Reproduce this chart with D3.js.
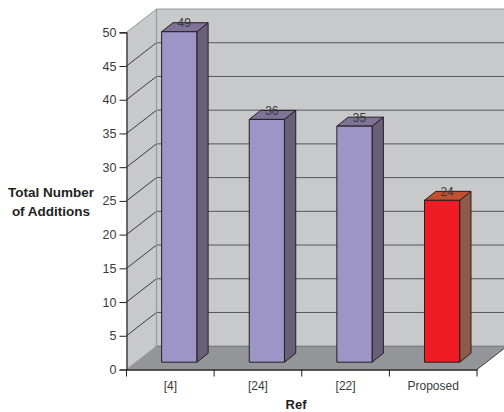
<!DOCTYPE html>
<html>
<head>
<meta charset="utf-8">
<script src="https://cdn.jsdelivr.net/npm/d3@7/dist/d3.min.js"></script>
<style>
html,body{margin:0;padding:0;background:#fff;}
svg{display:block;}
text{font-family:"Liberation Sans",Arial,sans-serif;}
</style>
</head>
<body>
<svg id="chart" width="504" height="412"></svg>
<script>
// Additions per reference, drawn as a 3-D column chart
const categories = ["[4]", "[24]", "[22]", "Proposed"];
const values = [49, 36, 35, 24];
const yTicks = [0, 5, 10, 15, 20, 25, 30, 35, 40, 45, 50];
const yTitleLines = ["Total Number", "of Additions"];
const xTitle = "Ref";

const svg = d3.select("#chart");
const left = 126.5, right = 477, y0 = 369.5, y50 = 32.3;
const x = d3.scaleBand().domain(categories).range([left, right]);
const y = d3.scaleLinear().domain([0, 50]).range([y0, y50]);

// Projection offsets: full chart depth, bar plane inset, bar depth
const depth = {dx: 30, dy: -23.3};
const inset = {dx: 8.9, dy: -7.3};
const barDepth = {dx: 11.3, dy: -9};
const barWidth = 35.2;

const poly = pts => pts.map(p => p.join(",")).join(" ");
const yTop = y(50), yBot = y(0);

// Walls and floor
svg.append("polygon").attr("fill", "#c8c9cb")
  .attr("points", poly([[left, yBot], [left, yTop], [left + depth.dx, yTop + depth.dy], [right + depth.dx, yTop + depth.dy], [right + depth.dx, yBot + depth.dy]]));
svg.append("polygon").attr("fill", "#939598")
  .attr("points", poly([[left, yBot], [left + depth.dx, yBot + depth.dy], [right + depth.dx, yBot + depth.dy], [right, yBot]]));

// Gridlines on the side wall and back wall
yTicks.forEach(t => {
  const edge = t === 50 ? "#97999b" : "#3c3c3e";
  const back = t === 0 ? "#6d6e70" : (t === 50 ? "#97999b" : "#56565a");
  if (t > 0) svg.append("line").attr("x1", left).attr("y1", y(t)).attr("x2", left + depth.dx).attr("y2", y(t) + depth.dy)
    .attr("stroke", edge).attr("stroke-width", 1);
  svg.append("line").attr("x1", left + depth.dx).attr("y1", y(t) + depth.dy).attr("x2", right + depth.dx).attr("y2", y(t) + depth.dy)
    .attr("stroke", back).attr("stroke-width", t === 50 ? 1.2 : 1);
});
svg.append("line").attr("x1", left + depth.dx).attr("y1", yTop + depth.dy).attr("x2", left + depth.dx).attr("y2", yBot + depth.dy)
  .attr("stroke", "#97999b").attr("stroke-width", 1.2);
svg.append("line").attr("x1", left).attr("y1", yBot).attr("x2", left + depth.dx).attr("y2", yBot + depth.dy)
  .attr("stroke", "#97999b").attr("stroke-width", 1);
svg.append("line").attr("x1", right).attr("y1", yBot).attr("x2", right + depth.dx).attr("y2", yBot + depth.dy)
  .attr("stroke", "#3c3c3e").attr("stroke-width", 1);

// Column colours: compared methods in violet, the proposed one in red
const palette = v => v === "Proposed"
  ? {front: "#ef1c25", side: "#8f5a48", cap: "#c2502f"}
  : {front: "#9e95c7", side: "#6a5f78", cap: "#7f7398"};

const bars = svg.append("g").selectAll("g").data(categories.map((c, i) => ({c, v: values[i]}))).join("g");
bars.each(function(d) {
  const g = d3.select(this), col = palette(d.c);
  const xa = x(d.c) + x.bandwidth() / 2 - barWidth / 2 + inset.dx;
  const xb = xa + barWidth;
  const yb = yBot + inset.dy;
  const yt = y(d.v) + inset.dy;
  const stroke = {stroke: "#231f20", "stroke-width": 1, "stroke-linejoin": "round"};
  const add = (pts, fill) => {
    const p = g.append("polygon").attr("points", poly(pts)).attr("fill", fill);
    Object.entries(stroke).forEach(([k, s]) => p.attr(k, s));
  };
  add([[xb, yt], [xb + barDepth.dx, yt + barDepth.dy], [xb + barDepth.dx, yb + barDepth.dy], [xb, yb]], col.side);
  add([[xa, yt], [xa + barDepth.dx, yt + barDepth.dy], [xb + barDepth.dx, yt + barDepth.dy], [xb, yt]], col.cap);
  add([[xa, yt], [xb, yt], [xb, yb], [xa, yb]], col.front);
  g.append("text").attr("x", (xa + xb) / 2 + 5).attr("y", yt - 4.5)
    .attr("text-anchor", "middle").attr("font-size", 12).attr("fill", "#3a3a3c").text(d.v);
});

// Axes
const axisColor = "#231f20";
const yAxis = svg.append("g").attr("transform", `translate(${left},0)`)
  .call(d3.axisLeft(y).tickValues(yTicks).tickSize(7).tickPadding(3));
yAxis.select(".domain").attr("stroke", axisColor).attr("stroke-width", 1.2);
yAxis.selectAll(".tick line").attr("stroke", axisColor);
yAxis.selectAll("text").attr("font-size", 12.5).attr("fill", "#3a3a3c")
  .attr("font-family", '"Liberation Sans",Arial,sans-serif');

const xAxis = svg.append("g").attr("transform", `translate(0,${y0})`)
  .call(d3.axisBottom(x).tickSizeOuter(0).tickSizeInner(0).tickPadding(12));
xAxis.select(".domain").attr("stroke", axisColor).attr("stroke-width", 1.6);
xAxis.selectAll("text").attr("font-size", 12).attr("fill", "#3a3a3c")
  .attr("font-family", '"Liberation Sans",Arial,sans-serif');
const xEdges = categories.map(c => x(c)).concat(right);
svg.append("g").selectAll("line").data(xEdges).join("line")
  .attr("x1", d => d).attr("x2", d => d).attr("y1", y0).attr("y2", y0 + 7)
  .attr("stroke", axisColor).attr("stroke-width", 1);

// Axis titles
svg.append("g").selectAll("text").data(yTitleLines).join("text")
  .attr("x", 51).attr("y", (d, i) => 197 + i * 19).attr("text-anchor", "middle")
  .attr("font-size", 13.5).attr("font-weight", "bold").attr("fill", "#231f20").text(d => d);
svg.append("text").attr("x", 296).attr("y", 409).attr("text-anchor", "middle")
  .attr("font-size", 13).attr("font-weight", "bold").attr("fill", "#231f20").text(xTitle);
</script>
</body>
</html>
